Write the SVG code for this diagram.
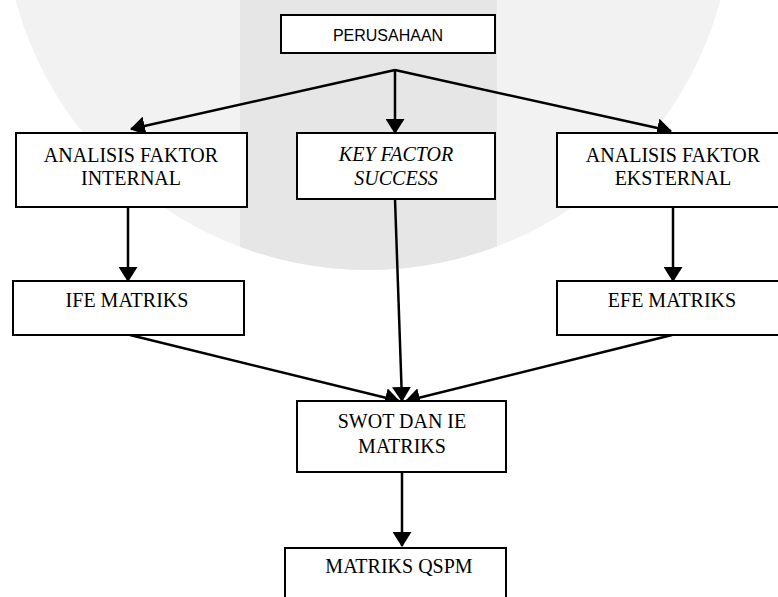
<svg xmlns="http://www.w3.org/2000/svg" width="778" height="597" viewBox="0 0 778 597">
<style>
.box{fill:#fff;stroke:#000;stroke-width:2}
.con{fill:none;stroke:#000;stroke-width:2.5}
.t{font-family:"Liberation Serif","Times New Roman",serif;font-size:20px;fill:#000;text-anchor:middle}
.s{font-family:"Liberation Sans",Arial,sans-serif;font-size:16px;fill:#000;text-anchor:middle}
.i{font-style:italic}
</style>
<defs>
<clipPath id="wm"><circle cx="368" cy="-95" r="365"/></clipPath>
<marker id="ah" markerUnits="userSpaceOnUse" viewBox="0 0 15 19" markerWidth="15" markerHeight="19" refX="14" refY="9.5" orient="auto"><path d="M0,0 L15,9.5 L0,19 z" fill="#000"/></marker>
</defs>
<rect width="778" height="597" fill="#fff"/>
<g id="watermark">
<circle cx="368" cy="-95" r="365" fill="#f2f2f3"/>
<rect x="240" y="0" width="257" height="300" fill="#e6e6e6" clip-path="url(#wm)"/>
</g>
<g id="connectors">
<line class="con" x1="395" y1="70" x2="131" y2="129" marker-end="url(#ah)"/>
<line class="con" x1="395" y1="70" x2="395" y2="133" marker-end="url(#ah)"/>
<line class="con" x1="395" y1="70" x2="671" y2="131" marker-end="url(#ah)"/>
<line class="con" x1="128" y1="207" x2="128" y2="281" marker-end="url(#ah)"/>
<line class="con" x1="673" y1="207" x2="673" y2="281" marker-end="url(#ah)"/>
<line class="con" x1="130" y1="335" x2="399" y2="401" marker-end="url(#ah)"/>
<line class="con" x1="395" y1="199" x2="402" y2="401" marker-end="url(#ah)"/>
<line class="con" x1="672" y1="335" x2="406" y2="401" marker-end="url(#ah)"/>
<line class="con" x1="402" y1="472" x2="402" y2="546" marker-end="url(#ah)"/>
</g>
<g id="perusahaan">
<rect class="box" x="281" y="15" width="214" height="38"/>
<text class="s" x="388" y="41">PERUSAHAAN</text>
</g>
<g id="afi">
<rect class="box" x="16" y="133" width="231" height="74"/>
<text class="t" x="131" y="162">ANALISIS FAKTOR</text>
<text class="t" x="131" y="185">INTERNAL</text>
</g>
<g id="kfs">
<rect class="box" x="297" y="133" width="198" height="66"/>
<text class="t i" x="396" y="161">KEY FACTOR</text>
<text class="t i" x="396" y="185">SUCCESS</text>
</g>
<g id="afe">
<rect class="box" x="557" y="133" width="230" height="74"/>
<text class="t" x="673" y="162">ANALISIS FAKTOR</text>
<text class="t" x="673" y="185">EKSTERNAL</text>
</g>
<g id="ife">
<rect class="box" x="13" y="281" width="231" height="54"/>
<text class="t" x="127" y="307">IFE MATRIKS</text>
</g>
<g id="efe">
<rect class="box" x="557" y="281" width="230" height="54"/>
<text class="t" x="672" y="307">EFE MATRIKS</text>
</g>
<g id="swot">
<rect class="box" x="297" y="401" width="209" height="71"/>
<text class="t" x="402" y="428">SWOT DAN IE</text>
<text class="t" x="402" y="453">MATRIKS</text>
</g>
<g id="qspm">
<rect class="box" x="285" y="548" width="221" height="60"/>
<text class="t" x="399" y="573">MATRIKS QSPM</text>
</g>
</svg>
